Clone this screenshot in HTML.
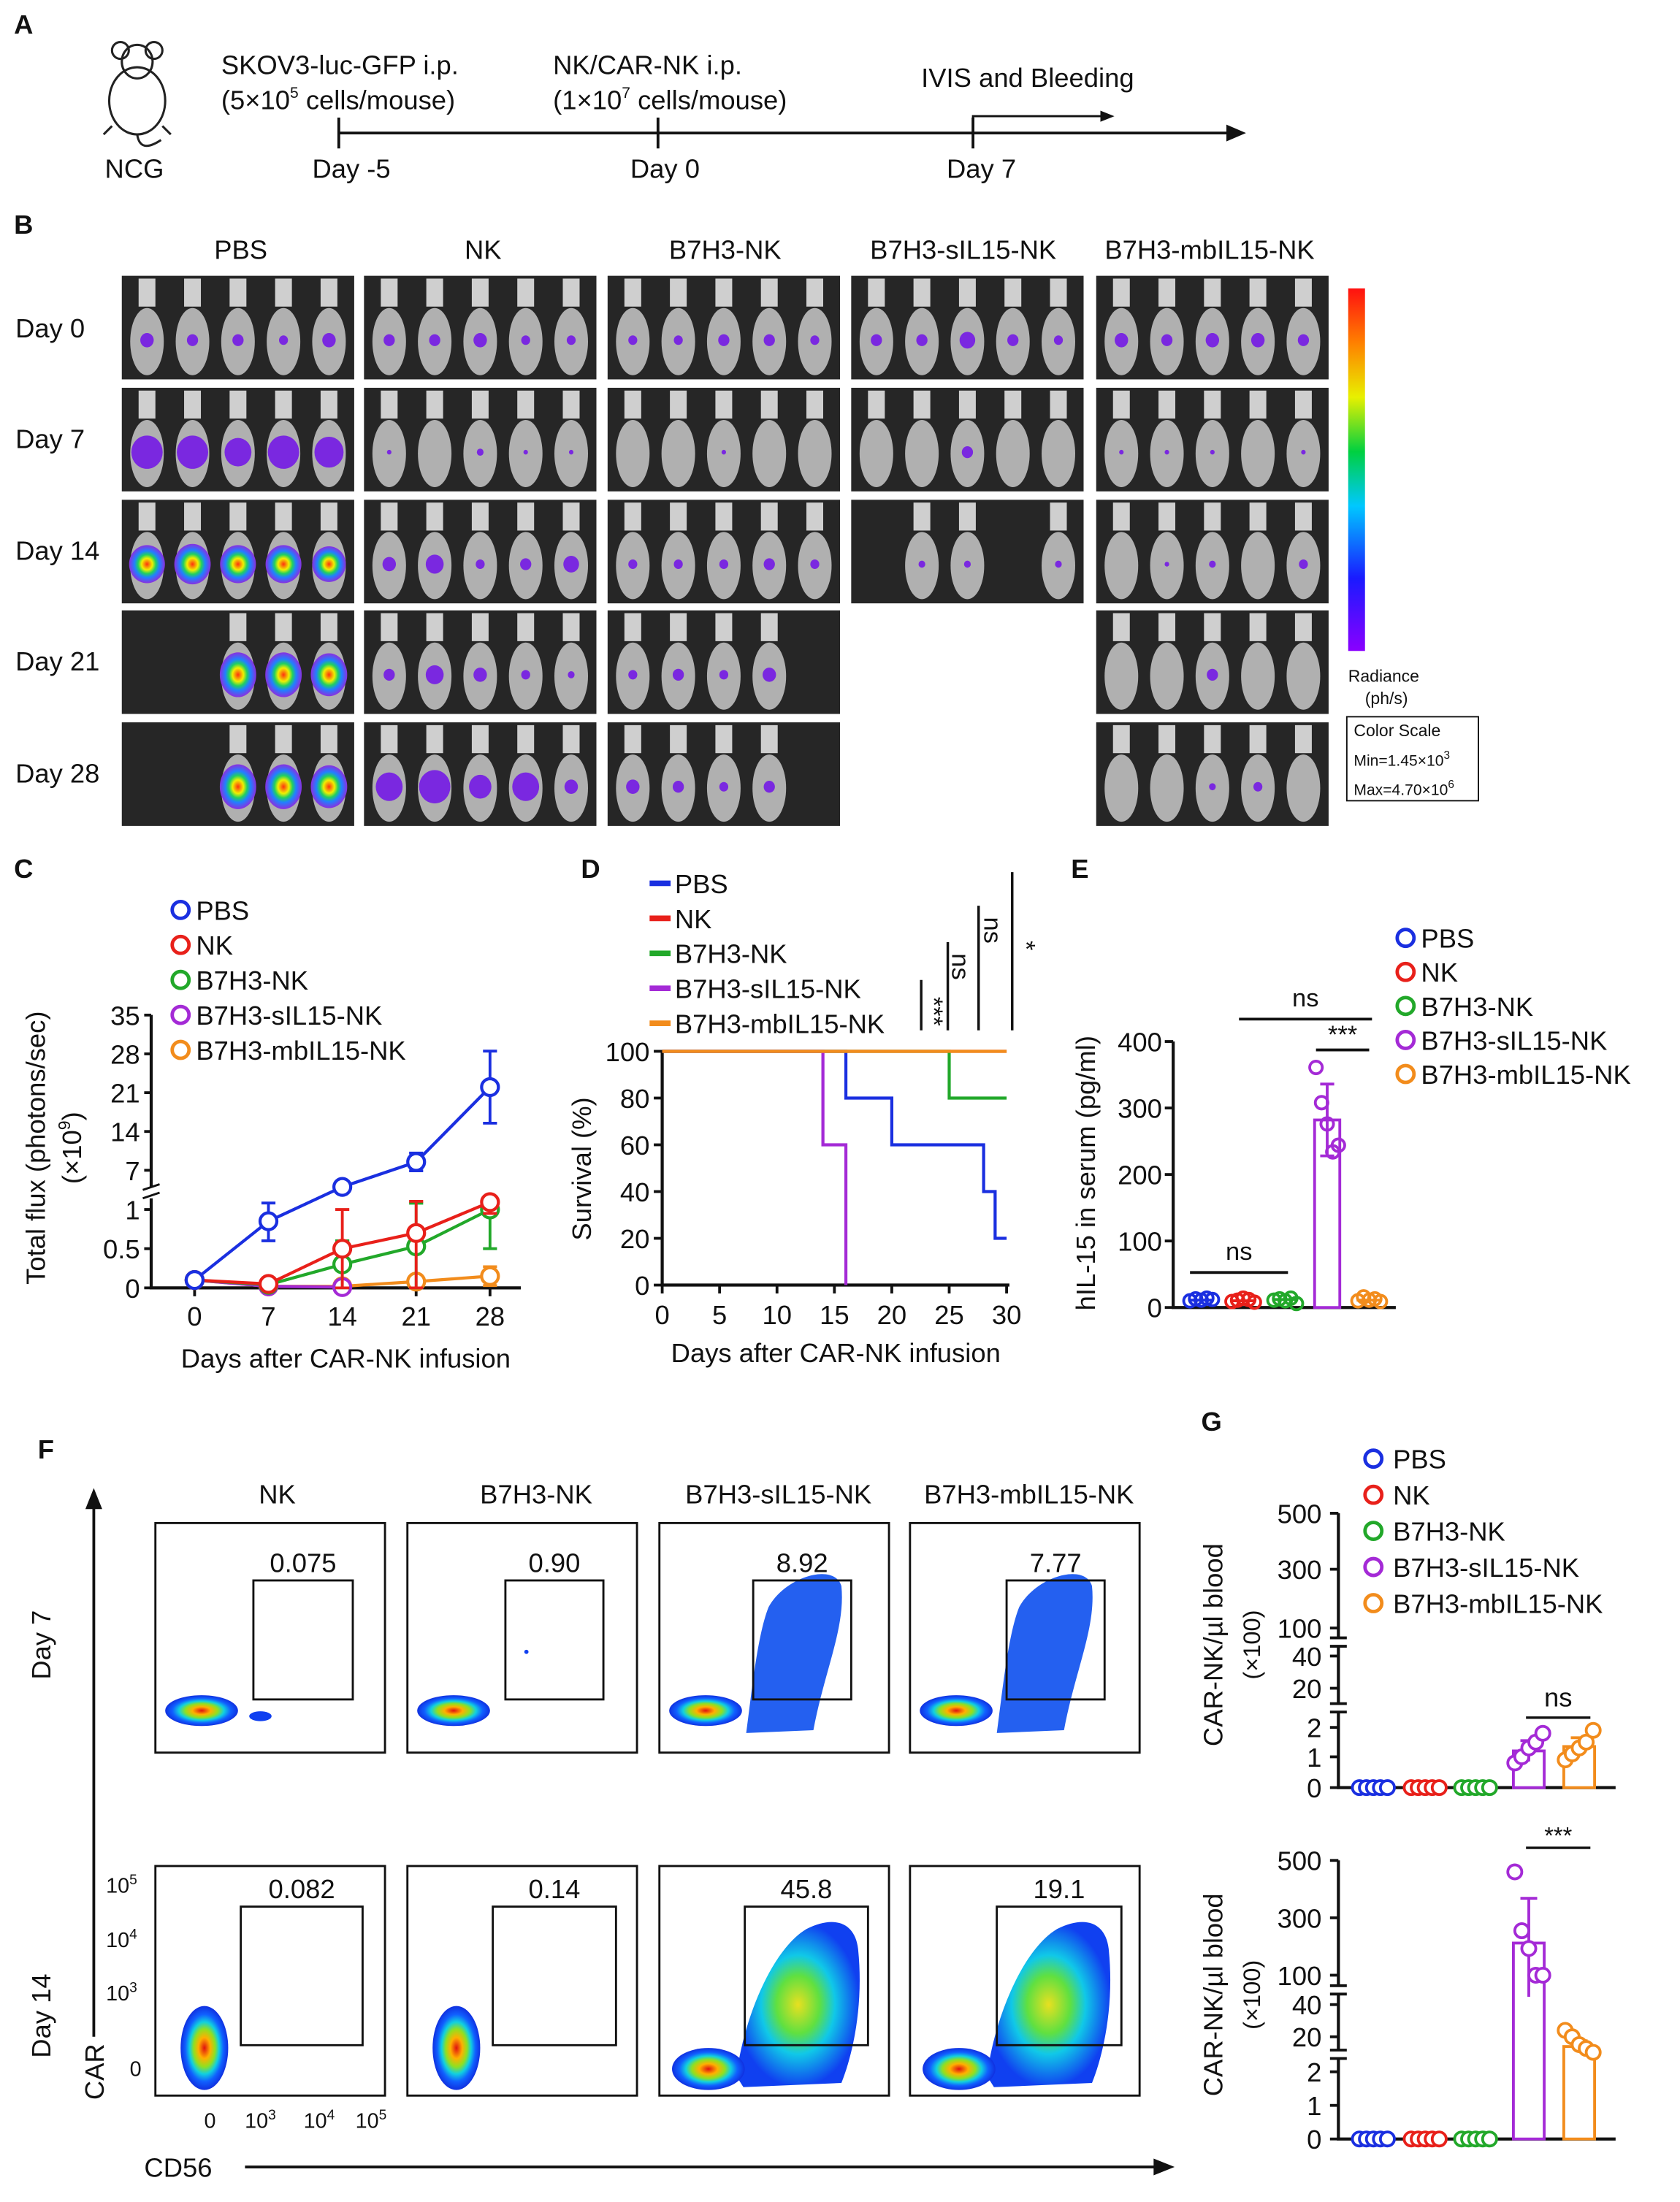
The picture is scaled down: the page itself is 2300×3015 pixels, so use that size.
<!DOCTYPE html>
<html><head><meta charset="utf-8"><style>
html,body{margin:0;padding:0;background:#fff;}
svg{display:block;font-family:"Liberation Sans",Arial,sans-serif;}
text{fill:#111;}
</style></head><body>
<svg id="fig" xmlns="http://www.w3.org/2000/svg" width="2300" height="3015" viewBox="0 0 1200 1573">
<defs>
<linearGradient id="cbar" x1="0" y1="1" x2="0" y2="0">
<stop offset="0" stop-color="#8a00ff"/><stop offset="0.2" stop-color="#1a1aff"/><stop offset="0.4" stop-color="#00c8ff"/><stop offset="0.55" stop-color="#00d040"/><stop offset="0.7" stop-color="#e8f000"/><stop offset="0.85" stop-color="#ff8000"/><stop offset="1" stop-color="#ff1010"/></linearGradient>
<radialGradient id="dens"><stop offset="0" stop-color="#e01010"/><stop offset="0.25" stop-color="#ffb000"/><stop offset="0.45" stop-color="#90e020"/><stop offset="0.62" stop-color="#10d0e0"/><stop offset="0.8" stop-color="#1060ff"/><stop offset="1" stop-color="#1030e0"/></radialGradient>
<radialGradient id="dens2"><stop offset="0" stop-color="#e8e020"/><stop offset="0.35" stop-color="#60e040"/><stop offset="0.6" stop-color="#10c8e8"/><stop offset="1" stop-color="#1040f0"/></radialGradient>
<radialGradient id="hot"><stop offset="0" stop-color="#ff3010"/><stop offset="0.3" stop-color="#f0f000"/><stop offset="0.5" stop-color="#20d060"/><stop offset="0.7" stop-color="#2080ff"/><stop offset="1" stop-color="#8a30e0"/></radialGradient>
</defs>

<g>
<text x="10" y="24" font-size="19" font-weight="bold">A</text>
<g fill="none" stroke="#222" stroke-width="1.6">
<ellipse cx="98" cy="72" rx="20" ry="24"/><ellipse cx="98" cy="44" rx="11" ry="12"/><circle cx="86" cy="36" r="6"/><circle cx="110" cy="36" r="6"/><path d="M98 96 Q100 110 115 100"/><path d="M80 90 l-6 6 M116 90 l6 6"/></g>
<text x="96" y="127" font-size="19" text-anchor="middle">NCG</text>
<text x="158" y="53" font-size="19">SKOV3-luc-GFP i.p.</text>
<text x="158" y="78" font-size="19">(5×10<tspan font-size="11" dy="-8">5</tspan><tspan dy="8"> cells/mouse)</tspan></text>
<text x="395" y="53" font-size="19">NK/CAR-NK i.p.</text>
<text x="395" y="78" font-size="19">(1×10<tspan font-size="11" dy="-8">7</tspan><tspan dy="8"> cells/mouse)</tspan></text>
<text x="658" y="62" font-size="19">IVIS and Bleeding</text>
<line x1="242" y1="95" x2="880" y2="95" stroke="#111" stroke-width="2"/>
<path d="M876 89 L890 95 L876 101 Z" fill="#111"/>
<path d="M242 84 V106 M470 84 V106 M695 84 V106" stroke="#111" stroke-width="2"/>
<path d="M695 95 V83 H790" stroke="#111" stroke-width="1.5" fill="none"/>
<path d="M786 79 L796 83 L786 87 Z" fill="#111"/>
<text x="251" y="127" font-size="19" text-anchor="middle">Day -5</text>
<text x="475" y="127" font-size="19" text-anchor="middle">Day 0</text>
<text x="701" y="127" font-size="19" text-anchor="middle">Day 7</text>
</g>

<g id="panelB">
<text x="10" y="167" font-size="19" font-weight="bold">B</text>
<text x="172" y="185" font-size="19" text-anchor="middle">PBS</text>
<text x="345" y="185" font-size="19" text-anchor="middle">NK</text>
<text x="518" y="185" font-size="19" text-anchor="middle">B7H3-NK</text>
<text x="688" y="185" font-size="19" text-anchor="middle">B7H3-sIL15-NK</text>
<text x="864" y="185" font-size="19" text-anchor="middle">B7H3-mbIL15-NK</text>
<text x="11" y="241" font-size="19">Day 0</text>
<text x="11" y="320" font-size="19">Day 7</text>
<text x="11" y="400" font-size="19">Day 14</text>
<text x="11" y="479" font-size="19">Day 21</text>
<text x="11" y="559" font-size="19">Day 28</text>
<rect x="963" y="206" width="12" height="259" fill="url(#cbar)"/>
<text x="963" y="487" font-size="12">Radiance</text>
<text x="975" y="503" font-size="12">(ph/s)</text>
<rect x="962" y="512" width="94" height="60" fill="none" stroke="#111" stroke-width="1"/>
<text x="967" y="526" font-size="12">Color Scale</text>
<text x="967" y="547" font-size="11">Min=1.45×10<tspan font-size="8" dy="-5">3</tspan></text>
<text x="967" y="568" font-size="11">Max=4.70×10<tspan font-size="8" dy="-5">6</tspan></text>
</g>

<g id="panelC">
<text x="10" y="627" font-size="19" font-weight="bold">C</text>
<text transform="translate(32,820) rotate(-90)" font-size="19" text-anchor="middle">Total flux (photons/sec)</text>
<text transform="translate(58,820) rotate(-90)" font-size="19" text-anchor="middle">(×10<tspan font-size="12" dy="-8">9</tspan><tspan dy="8">)</tspan></text>
<text x="247" y="977" font-size="19" text-anchor="middle">Days after CAR-NK infusion</text>
</g>

<g id="panelD">
<text x="415" y="627" font-size="19" font-weight="bold">D</text>
<text transform="translate(422,835) rotate(-90)" font-size="19" text-anchor="middle">Survival (%)</text>
<text x="597" y="973" font-size="19" text-anchor="middle">Days after CAR-NK infusion</text>
</g>

<g id="panelE">
<text x="765" y="627" font-size="19" font-weight="bold">E</text>
<text transform="translate(782,838) rotate(-90)" font-size="19" text-anchor="middle">hIL-15 in serum (pg/ml)</text>
</g>

<g id="panelF">
<text x="27" y="1042" font-size="19" font-weight="bold">F</text>
<text x="198" y="1074" font-size="19" text-anchor="middle">NK</text>
<text x="383" y="1074" font-size="19" text-anchor="middle">B7H3-NK</text>
<text x="556" y="1074" font-size="19" text-anchor="middle">B7H3-sIL15-NK</text>
<text x="735" y="1074" font-size="19" text-anchor="middle">B7H3-mbIL15-NK</text>
<text transform="translate(36,1175) rotate(-90)" font-size="19" text-anchor="middle">Day 7</text>
<text transform="translate(36,1440) rotate(-90)" font-size="19" text-anchor="middle">Day 14</text>
<line x1="67" y1="1455" x2="67" y2="1075" stroke="#111" stroke-width="2"/>
<path d="M61 1078 L67 1063 L73 1078 Z" fill="#111"/>
<text transform="translate(74,1480) rotate(-90)" font-size="19" text-anchor="middle">CAR</text>
<line x1="175" y1="1548" x2="826" y2="1548" stroke="#111" stroke-width="2"/>
<path d="M824 1542 L839 1548 L824 1554 Z" fill="#111"/>
<text x="103" y="1555" font-size="19">CD56</text>
<text x="98" y="1352" font-size="15" text-anchor="end">10<tspan font-size="10" dy="-6">5</tspan></text>
<text x="98" y="1391" font-size="15" text-anchor="end">10<tspan font-size="10" dy="-6">4</tspan></text>
<text x="98" y="1429" font-size="15" text-anchor="end">10<tspan font-size="10" dy="-6">3</tspan></text>
<text x="101" y="1483" font-size="15" text-anchor="end">0</text>
<text x="150" y="1520" font-size="15" text-anchor="middle">0</text>
<text x="186" y="1520" font-size="15" text-anchor="middle">10<tspan font-size="10" dy="-6">3</tspan></text>
<text x="228" y="1520" font-size="15" text-anchor="middle">10<tspan font-size="10" dy="-6">4</tspan></text>
<text x="265" y="1520" font-size="15" text-anchor="middle">10<tspan font-size="10" dy="-6">5</tspan></text>
</g>

<g id="panelG">
<text x="858" y="1022" font-size="19" font-weight="bold">G</text>
<text transform="translate(873,1175) rotate(-90)" font-size="19" text-anchor="middle">CAR-NK/µl blood</text>
<text transform="translate(900,1175) rotate(-90)" font-size="17" text-anchor="middle">(×100)</text>
<text transform="translate(873,1425) rotate(-90)" font-size="19" text-anchor="middle">CAR-NK/µl blood</text>
<text transform="translate(900,1425) rotate(-90)" font-size="17" text-anchor="middle">(×100)</text>
</g>
</svg>

<script>
// ===== Data =====
const groups=['PBS','NK','B7H3-NK','B7H3-sIL15-NK','B7H3-mbIL15-NK'];
const colors=['#1a2fe0','#e8201a','#22a82a','#a42ad6','#f28c1c'];
// Panel C
const cDays=[0,7,14,21,28];
const cPBS=[0.1,0.85,4,8.5,22];
const cPBSerr=[0,0.25,0.4,1.6,6.5];
const cNK=[0.1,0.05,0.5,0.7,1.25];
const cNKerr=[0,0.02,0.5,0.7,0.3];
const cB7=[0.1,0.04,0.3,0.53,1.0];
const cB7err=[0,0.02,0.3,0.53,0.5];
const cSIL=[0.1,0.02,0.01];
const cSILerr=[0,0.01,0.01];
const cMB=[0.1,0.02,0.02,0.08,0.15];
const cMBerr=[0,0.01,0.01,0.05,0.12];
const cTicksUpper=[7,14,21,28,35];
const cTicksLower=[0,0.5,1];
// Panel D
const dTicksX=[0,5,10,15,20,25,30];
const dTicksY=[0,20,40,60,80,100];
const dPBSt=[0,16,20,28,29,30], dPBSv=[100,80,60,40,20,20];
const dNKt=[0,30], dNKv=[100,100];
const dB7t=[0,25,30], dB7v=[100,80,80];
const dSILt=[0,14,16], dSILv=[100,60,0];
const dMBt=[0,30], dMBv=[100,100];
// Panel E
const eMeans=[11,10,12,282,11];
const eSD=[3,3,3,54,3];
const ePts0=[10,13,11,14,12], ePts1=[9,11,14,12,8], ePts2=[11,13,10,14,6], ePts3=[361,308,276,234,244], ePts4=[10,16,11,13,9];
const eTicks=[0,100,200,300,400];
// Panel G
const gTopMeans=[0,0,0,1.2,1.35];
const gTopSD=[0,0,0,0.35,0.3];
const gTopPts3=[0.8,1.0,1.3,1.5,1.8], gTopPts4=[0.9,1.1,1.3,1.5,1.9];
const gBotMeans=[0,0,0,212,15];
const gBotSD=[0,0,0,156,3];
const gBotPts3=[460,255,193,100,100], gBotPts4=[24,20,16,14,12];
const gTickVals=[0,1,2,20,40,100,300,500];
// Panel F gate percentages
const fDay7=['0.075','0.90','8.92','7.77'];
const fDay14=['0.082','0.14','45.8','19.1'];
// Panel B blob sizes per mouse (-1 = no mouse)
const bPBS=[[6,5,5,4,6],[14,14,12,14,13],[16,17,16,16,15],[-1,-1,19,19,18],[-1,-1,19,19,18]];
const bNK=[[5,5,6,4,4],[2,0,3,2,2],[6,8,4,5,7],[5,8,6,4,3],[12,14,10,12,6]];
const bB7=[[4,4,5,5,4],[0,0,2,0,0],[4,4,4,5,4],[4,5,4,6,-1],[6,5,4,5,-1]];
const bSIL=[[5,5,7,5,4],[0,0,5,0,0],[-2,3,3,-2,3],null,null];
const bMB=[[6,5,6,6,5],[2,2,2,0,2],[0,2,3,0,4],[0,0,5,0,0],[0,0,3,4,0]];

const NS='http://www.w3.org/2000/svg';
const svg=document.getElementById('fig');
function mk(tag,attrs,parent){const e=document.createElementNS(NS,tag);for(const k in attrs)e.setAttribute(k,attrs[k]);(parent||svg).appendChild(e);return e;}
function txt(s,x,y,size,anchor,parent){const t=mk('text',{x:x,y:y,'font-size':size,'text-anchor':anchor||'start'},parent);t.textContent=s;return t;}

// ===== Panel B =====
const pB=document.getElementById('panelB');
const bCols=[87,260,434,608,783], bRows=[197,277,357,436,516], bW=166, bH=74;
const bData=[bPBS,bNK,bB7,bSIL,bMB];
bData.forEach((col,ci)=>{col.forEach((row,ri)=>{
  if(!row) return;
  const x0=bCols[ci], y0=bRows[ri];
  const r=mk('rect',{x:x0,y:y0,width:bW,height:bH,fill:'#262626'},pB);
  
  
  row.forEach((s,mi)=>{
    if(s<0) return;
    const mx=x0+18+mi*32.5;
    const tail=mk('rect',{x:mx-6,y:y0+2,width:12,height:20,fill:'#cfcfcf'},pB);
    
    
    const body=mk('ellipse',{cx:mx,cy:y0+47,rx:12,ry:24,fill:'#b0b0b0'},pB);
    
    
    if(s>0){
      const hot=s>=15;
      const b=mk('ellipse',{cx:mx,cy:y0+46,rx:Math.min(s*0.8,13),ry:Math.min(s*0.85,16),fill:hot?'url(#hot)':'#7a28e0'},pB);
      
      
    }
  });
});});

// ===== Panel C =====
const pC=document.getElementById('panelC');
const cx=d=>139+d*(350-139)/28;
const cy=v=>v<=1?920-56*v:Math.min(860,836-(v-7)*3.96);
let ax=mk('path',{d:'M108 725 V848 M108 856 V920 H372',stroke:'#111','stroke-width':2.2,fill:'none'},pC);


mk('path',{d:'M102 850 L114 846 M102 856 L114 852',stroke:'#111','stroke-width':1.5},pC);
cTicksUpper.concat(cTicksLower).forEach(v=>{
  const y=cy(v);
  mk('line',{x1:103,y1:y,x2:108,y2:y,stroke:'#111','stroke-width':2},pC);
  const t=txt(String(v),100,y+7,19,'end',pC);
  
  
});
cDays.forEach(d=>{
  mk('line',{x1:cx(d),y1:920,x2:cx(d),y2:926,stroke:'#111','stroke-width':2},pC);
  const t=txt(String(d),cx(d),947,19,'middle',pC);
  
  
});
const cSeries=[[cPBS,cPBSerr],[cNK,cNKerr],[cB7,cB7err],[cSIL,cSILerr],[cMB,cMBerr]];
[4,3,2,1,0].forEach(gi=>{
  const vals=cSeries[gi][0], errs=cSeries[gi][1], col=colors[gi];
  const pts=vals.map((v,i)=>[cx(cDays[i]),cy(v)]);
  const l=mk('polyline',{points:pts.map(p=>p.join(',')).join(' '),fill:'none',stroke:col,'stroke-width':2.2},pC);
  
  
  vals.forEach((v,i)=>{
    if(errs[i]>0){
      const x=cx(cDays[i]),y1=cy(v+errs[i]),y2=cy(Math.max(0,v-errs[i]));
      const e=mk('path',{d:'M'+x+' '+y1+' V'+y2+' M'+(x-5)+' '+y1+' H'+(x+5)+' M'+(x-5)+' '+y2+' H'+(x+5),stroke:col,'stroke-width':2,fill:'none'},pC);
      
      
    }
    const c=mk('circle',{cx:cx(cDays[i]),cy:cy(v),r:6,fill:'#fff',stroke:col,'stroke-width':2.2},pC);
    
    
  });
});
groups.forEach((g,i)=>{
  const y=650+i*25;
  const c=mk('circle',{cx:129,cy:y,r:6,fill:'none',stroke:colors[i],'stroke-width':2.5},pC);
  
  
  const t=txt(g,140,y+7,19,'start',pC);
  
  
});

// ===== Panel D =====
const pD=document.getElementById('panelD');
const dx=t=>473+t*(719-473)/30;
const dy=v=>918-v*(918-751)/100;
ax=mk('path',{d:'M473 751 V918 H721',stroke:'#111','stroke-width':2.2,fill:'none'},pD);


dTicksY.forEach(v=>{
  mk('line',{x1:467,y1:dy(v),x2:473,y2:dy(v),stroke:'#111','stroke-width':2},pD);
  const t=txt(String(v),464,dy(v)+7,19,'end',pD);
  
  
});
dTicksX.forEach(v=>{
  mk('line',{x1:dx(v),y1:918,x2:dx(v),y2:924,stroke:'#111','stroke-width':2},pD);
  const t=txt(String(v),dx(v),946,19,'middle',pD);
  
  
});
const dSeries=[[dPBSt,dPBSv],[dNKt,dNKv],[dB7t,dB7v],[dSILt,dSILv],[dMBt,dMBv]];
dSeries.forEach((s,gi)=>{
  const ts=s[0], vs=s[1];
  let d='M'+dx(ts[0])+' '+dy(vs[0]);
  for(let i=1;i<ts.length;i++){d+=' H'+dx(ts[i])+' V'+dy(vs[i]);}
  const p=mk('path',{d:d,fill:'none',stroke:colors[gi],'stroke-width':2.2},pD);
  
  
});
groups.forEach((g,i)=>{
  const y=631+i*25;
  const l=mk('line',{x1:464,y1:y,x2:479,y2:y,stroke:colors[i],'stroke-width':4},pD);
  
  
  const t=txt(g,482,y+7,19,'start',pD);
  
  
});
[[658,700,'***',667],[677,673,'ns',686],[699,647,'ns',709],[723,623,'*',733]].forEach(a=>{
  const x=a[0],y=a[1],s=a[2];
  const l=mk('line',{x1:x,y1:y,x2:x,y2:736,stroke:'#111','stroke-width':1.8},pD);
  
  
  const t=mk('text',{transform:'translate('+(a[3]-6)+','+(s==='*'?672:(y+ (s==='***'?12:8)))+') rotate(90)','font-size':18},pD);
  t.textContent=s;
  
  
});

// ===== Panel E =====
const pE=document.getElementById('panelE');
const eX=[858,888,918,948,978];
const ey=v=>934-v*(934-744)/400;
ax=mk('path',{d:'M838 744 V934 H997',stroke:'#111','stroke-width':2.2,fill:'none'},pE);


eTicks.forEach(v=>{
  mk('line',{x1:832,y1:ey(v),x2:838,y2:ey(v),stroke:'#111','stroke-width':2},pE);
  const t=txt(String(v),830,ey(v)+7,19,'end',pE);
  
  
});
const ePts=[ePts0,ePts1,ePts2,ePts3,ePts4];
eMeans.forEach((m,i)=>{
  const x=eX[i],col=colors[i];
  if(i===3){
    const b=mk('rect',{x:x-9,y:ey(m),width:18,height:934-ey(m),fill:'#fff',stroke:col,'stroke-width':2},pE);
    
    
    const y1=ey(m+eSD[i]),y2=ey(m-eSD[i]);
    const e=mk('path',{d:'M'+x+' '+y1+' V'+y2+' M'+(x-5)+' '+y1+' H'+(x+5)+' M'+(x-5)+' '+y2+' H'+(x+5),stroke:col,'stroke-width':2,fill:'none'},pE);
    
    
  } else {
    const b=mk('line',{x1:x-9,y1:ey(m),x2:x+9,y2:ey(m),stroke:col,'stroke-width':2},pE);
    
    
  }
  ePts[i].forEach((v,k)=>{
    const c=mk('circle',{cx:x+(k-2)*4,cy:ey(v),r:4.5,fill:'none',stroke:col,'stroke-width':2},pE);
    
    
  });
});
[[850,920,909,'ns'],[885,980,728,'ns'],[940,978,750,'***']].forEach(a=>{
  const l=mk('line',{x1:a[0],y1:a[2],x2:a[1],y2:a[2],stroke:'#111','stroke-width':2},pE);
  
  
  const t=txt(a[3],(a[0]+a[1])/2,a[2]-(a[3]==='ns'?9:5),18,'middle',pE);
  
  
});
groups.forEach((g,i)=>{
  const y=670+i*24.3;
  const c=mk('circle',{cx:1004,cy:y,r:6,fill:'none',stroke:colors[i],'stroke-width':2.5},pE);
  
  
  const t=txt(g,1015,y+7,19,'start',pE);
  
  
});

// ===== Panel F =====
const pF=document.getElementById('panelF');
const fBoxX=[111,291,471,650], fRowY=[1088,1333];
const fGate7=[[181,1129,71,85],[361,1129,70,85],[538,1129,70,85],[719,1129,70,85]];
const fGate14=[[172,1362,87,99],[352,1362,88,99],[532,1362,88,99],[712,1362,89,99]];
[fDay7,fDay14].forEach((vals,ri)=>{
  fBoxX.forEach((x,ci)=>{
    const y=fRowY[ri];
    const r=mk('rect',{x:x,y:y,width:164,height:164,fill:'#fff',stroke:'#111','stroke-width':1.5},pF);
    
    
    const big=ci>=2;
    if(ri===0){
      if(big){
        const sh=mk('path',{d:'M'+(x+62)+' '+(y+150)+' C'+(x+66)+' '+(y+120)+','+(x+70)+' '+(y+80)+','+(x+78)+' '+(y+60)+' C'+(x+90)+' '+(y+38)+','+(x+125)+' '+(y+28)+','+(x+130)+' '+(y+45)+' C'+(x+133)+' '+(y+75)+','+(x+118)+' '+(y+105)+','+(x+110)+' '+(y+148)+' Z',fill:'#2460f0'},pF);
        
        
      }
      const m=mk('ellipse',{cx:x+33,cy:y+134,rx:26,ry:11,fill:'url(#dens)'},pF);
      
      
      if(ci===0){mk('ellipse',{cx:x+75,cy:y+138,rx:8,ry:3.5,fill:'#1040f0'},pF);}
      if(ci===1){mk('circle',{cx:x+85,cy:y+92,r:1.5,fill:'#1040f0'},pF);}
    } else {
      if(big){
        const sh=mk('path',{d:'M'+(x+55)+' '+(y+150)+' C'+(x+60)+' '+(y+110)+','+(x+80)+' '+(y+60)+','+(x+105)+' '+(y+45)+' C'+(x+125)+' '+(y+35)+','+(x+140)+' '+(y+40)+','+(x+142)+' '+(y+60)+' C'+(x+146)+' '+(y+100)+','+(x+138)+' '+(y+135)+','+(x+130)+' '+(y+155)+' L'+(x+60)+' '+(y+158)+' Z',fill:'url(#dens2)'},pF);
        
        
        mk('ellipse',{cx:x+35,cy:y+145,rx:26,ry:15,fill:'url(#dens)'},pF);
      } else {
        const m=mk('ellipse',{cx:x+35,cy:y+130,rx:17,ry:30,fill:'url(#dens)'},pF);
        
        
      }
    }
    const g=(ri===0?fGate7:fGate14)[ci];
    const gr=mk('rect',{x:g[0],y:g[1],width:g[2],height:g[3],fill:'none',stroke:'#111','stroke-width':1.5},pF);
    
    
    const t=txt(vals[ci],g[0]+g[2]/2,g[1]-6,19,'middle',pF);
    
    
  });
});

// ===== Panel G =====
const pG=document.getElementById('panelG');
const gX=[981,1018,1054,1092,1128];
const gTopY=[1277,1255,1234,1206,1183,1163,1121,1081];
const gBotY=[1528,1504,1480,1455,1432,1411,1370,1329];
function gScale(yPos){return v=>{
  if(v<=gTickVals[0]) return yPos[0];
  for(let i=1;i<gTickVals.length;i++){ if(v<=gTickVals[i]){const f=(v-gTickVals[i-1])/(gTickVals[i]-gTickVals[i-1]);return yPos[i-1]+f*(yPos[i]-yPos[i-1]);} }
  return yPos[yPos.length-1];};}
function gPlot(yPos,means,sds,pts3,pts4,sig,sigY,tag){
  const sy=gScale(yPos);
  const b1=(yPos[5]+yPos[4])/2, b2=(yPos[3]+yPos[2])/2;
  const a=mk('path',{d:'M956 '+yPos[7]+' V'+(b1-3)+' M956 '+(b1+3)+' V'+(b2-3)+' M956 '+(b2+3)+' V'+yPos[0]+' H1154',stroke:'#111','stroke-width':2.2,fill:'none'},pG);
  
  
  mk('path',{d:'M950 '+(b1-3)+' H962 M950 '+(b1+3)+' H962 M950 '+(b2-3)+' H962 M950 '+(b2+3)+' H962',stroke:'#111','stroke-width':2},pG);
  gTickVals.forEach((v,i)=>{
    mk('line',{x1:950,y1:yPos[i],x2:956,y2:yPos[i],stroke:'#111','stroke-width':2},pG);
    const t=txt(String(v),944,yPos[i]+7,19,'end',pG);
    
    
  });
  means.forEach((m,i)=>{
    const x=gX[i],col=colors[i];
    if(m>0){
      const b=mk('rect',{x:x-11,y:sy(m),width:22,height:yPos[0]-sy(m),fill:'#fff',stroke:col,'stroke-width':2},pG);
      
      
      const y1=sy(m+sds[i]),y2=sy(Math.max(0,m-sds[i]));
      const e=mk('path',{d:'M'+x+' '+y1+' V'+y2+' M'+(x-6)+' '+y1+' H'+(x+6),stroke:col,'stroke-width':2,fill:'none'},pG);
      
      
    }
    const ps=i===3?pts3:i===4?pts4:[0,0,0,0,0];
    ps.forEach((v,k)=>{
      const c=mk('circle',{cx:x+(k-2)*5,cy:sy(v),r:5,fill:'#fff',stroke:col,'stroke-width':2},pG);
      
      
    });
  });
  const l=mk('line',{x1:1090,y1:sigY,x2:1136,y2:sigY,stroke:'#111','stroke-width':1.8},pG);
  
  
  const t=txt(sig,1113,sigY-(sig==='ns'?8:3),sig==='ns'?19:17,'middle',pG);
  
  
}
gPlot(gTopY,gTopMeans,gTopSD,gTopPts3,gTopPts4,'ns',1227,'top');
gPlot(gBotY,gBotMeans,gBotSD,gBotPts3,gBotPts4,'***',1320,'bottom');
groups.forEach((g,i)=>{
  const y=1042+i*25.8;
  const c=mk('circle',{cx:981,cy:y,r:6,fill:'none',stroke:colors[i],'stroke-width':2.5},pG);
  
  
  const t=txt(g,995,y+7,19,'start',pG);
  
  
});
</script>
</body></html>
